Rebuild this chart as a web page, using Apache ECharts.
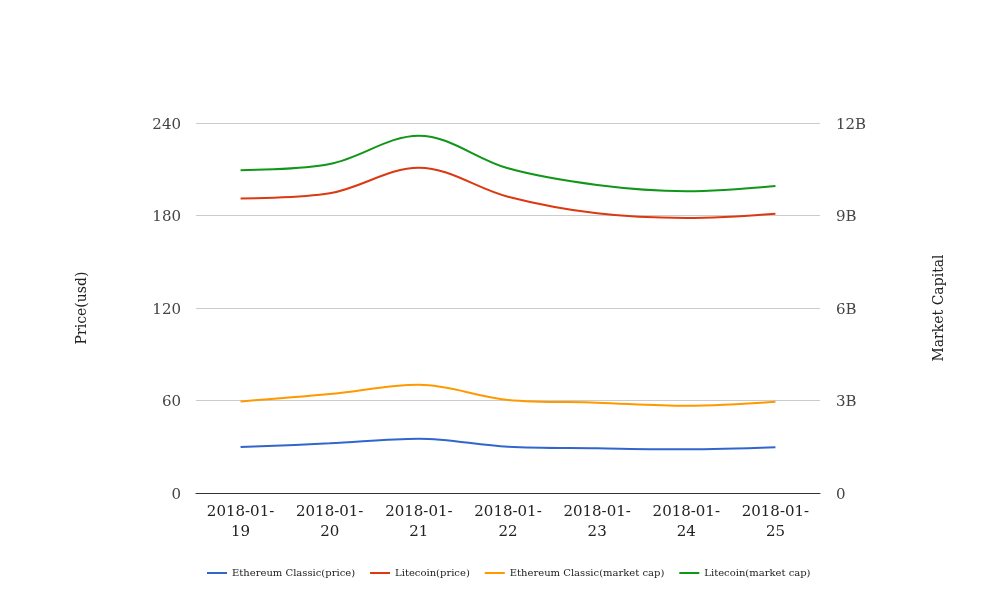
<!DOCTYPE html>
<html>
<head>
<meta charset="utf-8">
<script src="https://cdn.jsdelivr.net/npm/echarts@6/dist/echarts.min.js"></script>
<style>html,body{margin:0;padding:0;background:#fff}#c{width:1008px;height:616px}</style>
</head>
<body>
<div id="c"></div>
<script>
const categories = ['2018-01-19','2018-01-20','2018-01-21','2018-01-22','2018-01-23','2018-01-24','2018-01-25'];
const etcPrice = [29.8, 32.2, 35.2, 30.0, 29.0, 28.3, 29.6];
const ltcPrice = [191.1, 194.4, 211.0, 192.2, 181.4, 178.4, 181.2];
const etcCap = [2.97e9, 3.21e9, 3.51e9, 3.02e9, 2.93e9, 2.83e9, 2.96e9];
const ltcCap = [10.47e9, 10.67e9, 11.59e9, 10.53e9, 9.99e9, 9.79e9, 9.96e9];
const priceTicks = [0, 60, 120, 180, 240];
const capTicks = ['0', '3B', '6B', '9B', '12B'];

const FONT = 'DejaVu Serif';
const chart = echarts.init(document.getElementById('c'));
function mkSeries(name, data, axis, color) {
  return {
    name, type: 'line', yAxisIndex: axis, data, smooth: 0.35,
    showSymbol: false, symbol: 'none',
    lineStyle: { color, width: 2 }, itemStyle: { color }
  };
}
const tickRich = { t: { fontFamily: FONT, fontSize: 15, color: '#444', padding: [4, 0, 0, 0] } };
chart.setOption({
  animation: false,
  textStyle: { fontFamily: FONT },
  color: ['#3366cc', '#dc3912', '#ff9900', '#109618'],
  grid: { left: 196, right: 188, top: 123, bottom: 123 },
  legend: {
    top: 563, left: 202, icon: 'rect', itemWidth: 20, itemHeight: 2, itemGap: 15, itemTextGap: 4,
    textStyle: { fontFamily: FONT, fontSize: 10, color: '#222' }
  },
  xAxis: {
    type: 'category', data: categories, boundaryGap: true,
    axisLine: { lineStyle: { color: '#333', width: 1 } },
    axisTick: { show: false },
    axisLabel: {
      fontFamily: FONT, fontSize: 15, color: '#222', margin: 9, lineHeight: 20, interval: 0,
      formatter: v => v.slice(0, 8) + '\n' + v.slice(8)
    }
  },
  yAxis: [
    {
      type: 'value', min: 0, max: 240, interval: 60, name: 'Price(usd)',
      nameLocation: 'middle', nameGap: 107,
      nameTextStyle: { fontFamily: FONT, fontSize: 14, color: '#222' },
      axisLine: { show: false }, axisTick: { show: false },
      axisLabel: { fontFamily: FONT, fontSize: 15, color: '#444', margin: 15, rich: tickRich,
        formatter: v => '{t|' + priceTicks[priceTicks.indexOf(v)] + '}' },
      splitLine: { lineStyle: { color: '#cccccc' } }
    },
    {
      type: 'value', min: 0, max: 12e9, interval: 3e9, name: 'Market Capital',
      nameLocation: 'middle', nameGap: 112,
      nameTextStyle: { fontFamily: FONT, fontSize: 14, color: '#222' },
      axisLine: { show: false }, axisTick: { show: false },
      axisLabel: { fontFamily: FONT, fontSize: 15, color: '#444', margin: 16, rich: tickRich,
        formatter: v => '{t|' + capTicks[Math.round(v / 3e9)] + '}' },
      splitLine: { show: false }
    }
  ],
  series: [
    mkSeries('Ethereum Classic(price)', etcPrice, 0, '#3366cc'),
    mkSeries('Litecoin(price)', ltcPrice, 0, '#dc3912'),
    mkSeries('Ethereum Classic(market cap)', etcCap, 1, '#ff9900'),
    mkSeries('Litecoin(market cap)', ltcCap, 1, '#109618')
  ]
});
</script>
</body>
</html>
